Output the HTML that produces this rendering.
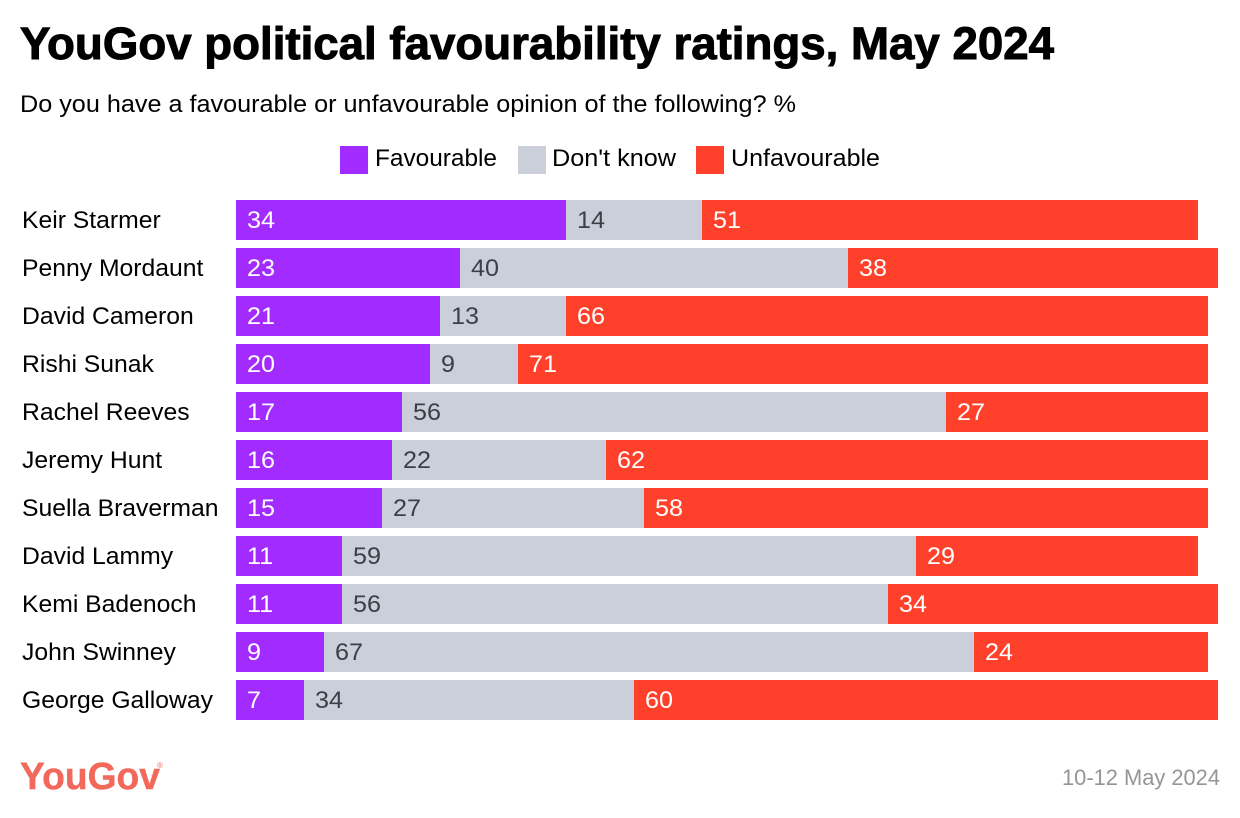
<!DOCTYPE html>
<html lang="en">
<head>
<meta charset="utf-8">
<title>YouGov political favourability ratings, May 2024</title>
<style>
html,body{margin:0;padding:0;background:#fff;}
body{width:1240px;height:818px;overflow:hidden;}
svg{display:block;font-family:"Liberation Sans",sans-serif;}
</style>
</head>
<body>
<svg id="chart" width="1240" height="818" viewBox="0 0 1240 818" xmlns="http://www.w3.org/2000/svg">
  <text x="20" y="59" font-size="45" font-weight="700" fill="#000" stroke="#000" stroke-width="1" textLength="1034" lengthAdjust="spacingAndGlyphs">YouGov political favourability ratings, May 2024</text>
  <text x="20" y="112" font-size="24" fill="#000" textLength="776" lengthAdjust="spacingAndGlyphs">Do you have a favourable or unfavourable opinion of the following? %</text>
  <g>
    <g>
      <rect x="340" y="146" width="28" height="28" fill="#a22bff"/>
      <text x="375" y="166" font-size="24" fill="#000" textLength="122" lengthAdjust="spacingAndGlyphs">Favourable</text>
    </g>
    <g>
      <rect x="518" y="146" width="28" height="28" fill="#cbcfda"/>
      <text x="552" y="166" font-size="24" fill="#000" textLength="124" lengthAdjust="spacingAndGlyphs">Don't know</text>
    </g>
    <g>
      <rect x="696" y="146" width="28" height="28" fill="#ff412c"/>
      <text x="731" y="166" font-size="24" fill="#000" textLength="149" lengthAdjust="spacingAndGlyphs">Unfavourable</text>
    </g>
  </g>
  <g id="rows"></g>
  <text x="20" y="789" font-size="38" font-weight="700" fill="#f2685a" stroke="#f2685a" stroke-width="0.4" textLength="140" lengthAdjust="spacingAndGlyphs">YouGov</text>
  <text x="157" y="768" font-size="8" fill="#f2685a">®</text>
  <text x="1220" y="785" font-size="22" fill="#959595" text-anchor="end" textLength="158" lengthAdjust="spacingAndGlyphs">10-12 May 2024</text>
</svg>
<script>
const categories = ["Keir Starmer","Penny Mordaunt","David Cameron","Rishi Sunak","Rachel Reeves","Jeremy Hunt","Suella Braverman","David Lammy","Kemi Badenoch","John Swinney","George Galloway"];
const favourable = [34,23,21,20,17,16,15,11,11,9,7];
const dontKnow = [14,40,13,9,56,22,27,59,56,67,34];
const unfavourable = [51,38,66,71,27,62,58,29,34,24,60];

const NS = 'http://www.w3.org/2000/svg';
const rows = document.getElementById('rows');
const xOrigin = 236, unit = 9.72, rowTop = 200, rowStep = 48, barHeight = 40;
const xScale = v => xOrigin + 2 * Math.round(v * unit / 2);
const yScale = i => rowTop + i * rowStep;
const seriesNames = ['favourable','dont-know','unfavourable'];
const seriesValues = [favourable, dontKnow, unfavourable];
const seriesFill = ['#a22bff','#cbcfda','#ff412c'];
const seriesText = ['#fff','#3c3f47','#fff'];

function widen(t, factor) {
  const w = t.getComputedTextLength();
  t.setAttribute('textLength', (w * factor).toFixed(1));
  t.setAttribute('lengthAdjust', 'spacingAndGlyphs');
}

categories.forEach((name, i) => {
  const y = yScale(i);
  const label = document.createElementNS(NS, 'text');
  
  
  label.setAttribute('x', 22);
  label.setAttribute('y', y + 28);
  label.setAttribute('font-size', 24);
  label.setAttribute('fill', '#000');
  label.textContent = name;
  rows.appendChild(label);
  widen(label, 1.03);

  let cum = 0;
  seriesValues.forEach((vals, s) => {
    const x0 = xScale(cum);
    cum += vals[i];
    const x1 = xScale(cum);
    const rect = document.createElementNS(NS, 'rect');
    
    
    rect.setAttribute('x', x0);
    rect.setAttribute('y', y);
    rect.setAttribute('width', x1 - x0);
    rect.setAttribute('height', barHeight);
    rect.setAttribute('fill', seriesFill[s]);
    rows.appendChild(rect);

    const val = document.createElementNS(NS, 'text');
    
    
    val.setAttribute('x', x0 + 11);
    val.setAttribute('y', y + 28);
    val.setAttribute('font-size', 24);
    val.setAttribute('fill', seriesText[s]);
    val.textContent = vals[i];
    rows.appendChild(val);
    widen(val, 1.05);
  });
});
</script>
</body>
</html>
